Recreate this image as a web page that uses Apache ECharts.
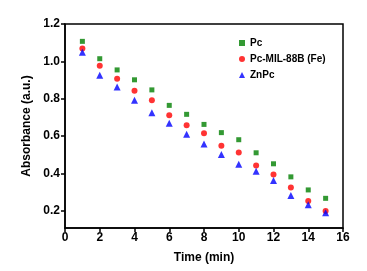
<!DOCTYPE html>
<html>
<head>
<meta charset="utf-8">
<script src="https://cdn.jsdelivr.net/npm/echarts@6/dist/echarts.min.js"></script>
<style>
  html, body { margin: 0; padding: 0; background: #fff; }
  #chart { width: 367px; height: 271px; }
</style>
</head>
<body>
<div id="chart"></div>
<script>
// time in minutes
var times = [1, 2, 3, 4, 5, 6, 7, 8, 9, 10, 11, 12, 13, 14, 15];
var pc = [1.107, 1.014, 0.954, 0.901, 0.847, 0.764, 0.716, 0.662, 0.618, 0.580, 0.510, 0.451, 0.381, 0.311, 0.266];
var pcMil = [1.069, 0.976, 0.906, 0.842, 0.791, 0.711, 0.657, 0.614, 0.548, 0.512, 0.442, 0.394, 0.324, 0.252, 0.198];
var znpc = [1.048, 0.926, 0.863, 0.791, 0.725, 0.668, 0.609, 0.557, 0.501, 0.449, 0.411, 0.361, 0.281, 0.232, 0.189];
var yTicks = [0.2, 0.4, 0.6, 0.8, 1.0, 1.2];

function pairs(ys) {
    return times.map(function (t, i) { return [t, ys[i]]; });
}

var font = 'Liberation Sans';
var option = {
    animation: false,
    grid: {
        left: 65, right: 24, top: 24, bottom: 43,
        show: true, borderColor: '#000', borderWidth: 1.5, backgroundColor: 'transparent'
    },
    legend: {
        orient: 'vertical',
        left: 234, top: 33,
        itemWidth: 6, itemHeight: 6, itemGap: 6,
        textStyle: { fontFamily: font, fontWeight: 'bold', fontSize: 10, color: '#000' },
        data: ['Pc', 'Pc-MIL-88B (Fe)', 'ZnPc']
    },
    xAxis: {
        type: 'value', min: 0, max: 16, interval: 2,
        name: 'Time (min)', nameLocation: 'middle', nameGap: 24,
        nameTextStyle: { fontFamily: font, fontWeight: 'bold', fontSize: 12, color: '#000' },
        axisLine: { lineStyle: { color: '#000', width: 1.5 } },
        axisTick: { length: 4, lineStyle: { color: '#000', width: 1.5 } },
        axisLabel: { fontFamily: font, fontWeight: 'bold', fontSize: 12, color: '#000', margin: 4 },
        splitLine: { show: false }
    },
    yAxis: {
        type: 'value', min: 0.107, max: 1.2,
        name: 'Absorbance (a.u.)', nameLocation: 'middle', nameGap: 30,
        nameTextStyle: { fontFamily: font, fontWeight: 'bold', fontSize: 12, color: '#000' },
        axisLine: { lineStyle: { color: '#000', width: 1.5 } },
        axisTick: { length: 4, customValues: yTicks, lineStyle: { color: '#000', width: 1.5 } },
        axisLabel: {
            customValues: yTicks, fontFamily: font, fontWeight: 'bold', fontSize: 12, color: '#000', margin: 5,
            formatter: function (v) { return v.toFixed(1); }
        },
        splitLine: { show: false }
    },
    series: [
        { name: 'Pc', type: 'scatter', symbol: 'rect', symbolSize: 5, itemStyle: { color: '#008000' }, data: pairs(pc) },
        { name: 'Pc-MIL-88B (Fe)', type: 'scatter', symbol: 'circle', symbolSize: 6, itemStyle: { color: '#ff0000' }, data: pairs(pcMil) },
        { name: 'ZnPc', type: 'scatter', symbol: 'triangle', symbolSize: 7, itemStyle: { color: '#0000ff' }, data: pairs(znpc) }
    ]
};

var myChart = echarts.init(document.getElementById('chart'));
myChart.setOption(option);
</script>
</body>
</html>
